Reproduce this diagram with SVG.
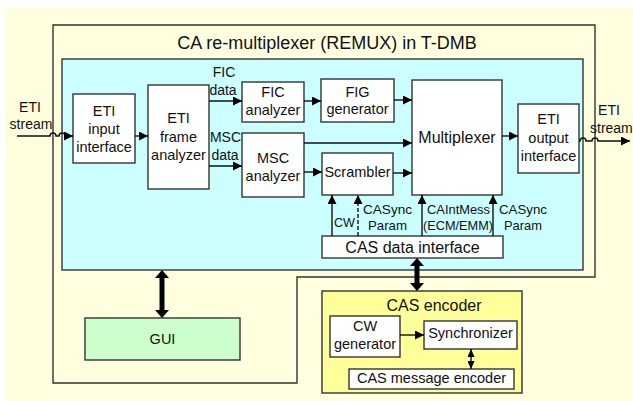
<svg xmlns="http://www.w3.org/2000/svg" width="633" height="401" viewBox="0 0 633 401">
<style>
text{font-family:"Liberation Sans",Arial,sans-serif;fill:#111}
.box{fill:#fff;stroke:#333;stroke-width:1.4}
.t{font-size:14.5px;text-anchor:middle}
.t16{font-size:16px;text-anchor:middle}
.lbl{font-size:14px;text-anchor:middle}
.sm{font-size:13px}
.ln{fill:none;stroke:#111;stroke-width:1.4}
.thick{fill:none;stroke:#000;stroke-width:5}
</style>
<defs>
<marker id="ah" viewBox="0 0 10 10" refX="10" refY="5" markerWidth="9" markerHeight="9" markerUnits="userSpaceOnUse" orient="auto"><path d="M0,0 L10,5 L0,10 z" fill="#000"/></marker>
<marker id="big" viewBox="0 0 10 10" refX="0" refY="5" markerWidth="8" markerHeight="14" markerUnits="userSpaceOnUse" orient="auto-start-reverse" preserveAspectRatio="none"><path d="M0,0 L10,5 L0,10 z" fill="#000"/></marker>
<marker id="sm2" viewBox="0 0 10 10" refX="10" refY="5" markerWidth="8" markerHeight="7" markerUnits="userSpaceOnUse" orient="auto-start-reverse" preserveAspectRatio="none"><path d="M0,0 L10,5 L0,10 z" fill="#000"/></marker>
</defs>
<rect x="6" y="8" width="627" height="393" fill="#FFFFE0"/>
<g id="remux">
<path d="M53,25 H595 V277 H297 V383 H53 Z" fill="#FFFFE0" stroke="#333" stroke-width="1.4"/>
<text x="327" y="49" style="font-size:18px;text-anchor:middle">CA re-multiplexer (REMUX) in T-DMB</text>
</g>
<g id="core">
<rect x="62" y="59" width="521" height="211" fill="#CCFFFF" stroke="#333" stroke-width="1.4"/>
</g>
<g id="eti-input">
<rect class="box" x="73" y="94" width="62" height="69"/>
<text class="t" x="104" y="116">ETI</text>
<text class="t" x="104" y="134">input</text>
<text class="t" x="104" y="152">interface</text>
</g>
<g id="eti-frame">
<rect class="box" x="148" y="85" width="61" height="104"/>
<text class="t" x="178.5" y="123">ETI</text>
<text class="t" x="178.5" y="141.5">frame</text>
<text class="t" x="178.5" y="160">analyzer</text>
</g>
<g id="fic-analyzer">
<rect class="box" x="242" y="82" width="62" height="40"/>
<text class="t" x="273" y="97">FIC</text>
<text class="t" x="273" y="115">analyzer</text>
</g>
<g id="msc-analyzer">
<rect class="box" x="242" y="133" width="62" height="64"/>
<text class="t" x="273" y="163">MSC</text>
<text class="t" x="273" y="181">analyzer</text>
</g>
<g id="fig-generator">
<rect class="box" x="321" y="79" width="73" height="43"/>
<text class="t" x="357.5" y="96.5">FIG</text>
<text class="t" x="357.5" y="114">generator</text>
</g>
<g id="scrambler">
<rect class="box" x="322" y="153" width="71" height="42"/>
<text class="t" x="357.5" y="177">Scrambler</text>
</g>
<g id="multiplexer">
<rect class="box" x="412" y="80" width="90" height="115"/>
<text class="t16" x="457" y="143">Multiplexer</text>
</g>
<g id="eti-output">
<rect class="box" x="518" y="104" width="61" height="69"/>
<text class="t" x="548.5" y="124">ETI</text>
<text class="t" x="548.5" y="142.5">output</text>
<text class="t" x="548.5" y="161">interface</text>
</g>
<g id="cas-data-interface">
<rect class="box" x="322" y="236" width="181" height="22"/>
<text class="t16" x="412.5" y="253">CAS data interface</text>
</g>
<g id="gui">
<rect x="85" y="318" width="155" height="42" fill="#CCFFCC" stroke="#333" stroke-width="1.4"/>
<text class="t" x="162.5" y="344">GUI</text>
</g>
<g id="cas-encoder">
<rect x="322" y="291" width="200" height="102" fill="#FFFF99" stroke="#333" stroke-width="1.4"/>
<text class="t16" x="434" y="311">CAS encoder</text>
</g>
<g id="cw-generator">
<rect class="box" x="330" y="316" width="70" height="41"/>
<text class="t" x="365" y="331">CW</text>
<text class="t" x="365" y="349">generator</text>
</g>
<g id="synchronizer">
<rect class="box" x="424" y="321" width="93" height="28"/>
<text class="t" x="470.5" y="338">Synchronizer</text>
</g>
<g id="cas-message-encoder">
<rect class="box" x="349" y="369" width="165" height="20"/>
<text class="t" x="431.5" y="383">CAS message encoder</text>
</g>
<g id="connectors">
<path class="ln" d="M17,136 H50 a3,3 0 0 1 6,0 H59 a3,3 0 0 1 6,0 H73" marker-end="url(#ah)"/>
<line class="ln" x1="135" y1="136" x2="148" y2="136" marker-end="url(#ah)"/>
<line class="ln" x1="209" y1="101" x2="242" y2="101" marker-end="url(#ah)"/>
<line class="ln" x1="209" y1="166" x2="242" y2="166" marker-end="url(#ah)"/>
<line class="ln" x1="304" y1="101" x2="321" y2="101" marker-end="url(#ah)"/>
<line class="ln" x1="304" y1="143" x2="412" y2="143" marker-end="url(#ah)"/>
<line class="ln" x1="304" y1="172" x2="322" y2="172" marker-end="url(#ah)"/>
<line class="ln" x1="394" y1="100" x2="412" y2="100" marker-end="url(#ah)"/>
<line class="ln" x1="393" y1="173" x2="412" y2="173" marker-end="url(#ah)"/>
<line class="ln" x1="502" y1="136" x2="518" y2="136" marker-end="url(#ah)"/>
<path class="ln" d="M579,141 H580 a3,3 0 0 1 6,0 H592 a3,3 0 0 1 6,0 H630" marker-end="url(#ah)"/>
<line class="ln" x1="332" y1="236" x2="332" y2="195" marker-end="url(#ah)"/>
<line class="ln" x1="358" y1="236" x2="358" y2="195" stroke-dasharray="4,2" marker-end="url(#ah)"/>
<line class="ln" x1="422" y1="236" x2="422" y2="195" marker-end="url(#ah)"/>
<line class="ln" x1="493" y1="236" x2="493" y2="195" marker-end="url(#ah)"/>
<line class="ln" x1="400" y1="335" x2="424" y2="335" marker-end="url(#ah)"/>
<line class="thick" x1="162" y1="278" x2="162" y2="310" marker-start="url(#big)" marker-end="url(#big)"/>
<line class="thick" x1="417" y1="266" x2="417" y2="283" marker-start="url(#big)" marker-end="url(#big)"/>
<line class="ln" x1="471" y1="349" x2="471" y2="369" stroke-width="2" marker-start="url(#sm2)" marker-end="url(#sm2)"/>
<text class="lbl" x="30" y="112">ETI</text>
<text class="lbl" x="31" y="129">stream</text>
<text class="lbl" x="609" y="115">ETI</text>
<text class="lbl" x="590" y="133" style="text-anchor:start">stream</text>
<text class="lbl" x="224" y="77">FIC</text>
<text class="lbl" x="223" y="95">data</text>
<text class="lbl" x="225.5" y="142">MSC</text>
<text class="lbl" x="225" y="160">data</text>
<text class="sm" x="334" y="227" textLength="21" lengthAdjust="spacingAndGlyphs">CW</text>
<text class="sm" x="363" y="214" textLength="49" lengthAdjust="spacingAndGlyphs">CASync</text>
<text class="sm" x="368" y="230" textLength="39" lengthAdjust="spacingAndGlyphs">Param</text>
<text class="sm" x="427" y="214" textLength="63" lengthAdjust="spacingAndGlyphs">CAIntMess</text>
<text class="sm" x="423" y="230" textLength="70" lengthAdjust="spacingAndGlyphs">(ECM/EMM)</text>
<text class="sm" x="499" y="214" textLength="48" lengthAdjust="spacingAndGlyphs">CASync</text>
<text class="sm" x="504" y="230" textLength="38" lengthAdjust="spacingAndGlyphs">Param</text>
</g>
</svg>
